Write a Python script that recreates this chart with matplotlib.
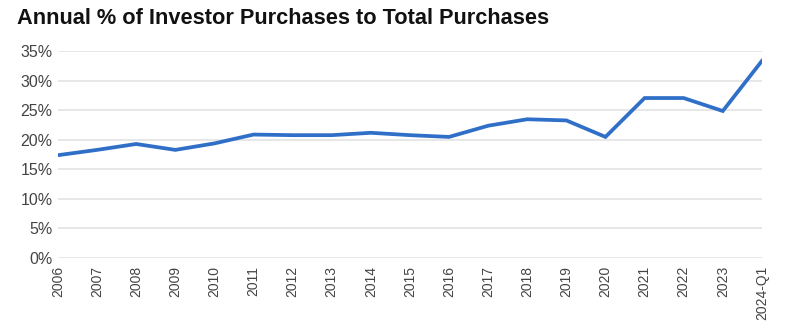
import matplotlib.pyplot as plt
from matplotlib.ticker import FuncFormatter

plt.rcParams['font.family'] = ['Liberation Sans', 'DejaVu Sans']

# datos
periodos = ['2006', '2007', '2008', '2009', '2010', '2011', '2012', '2013', '2014', '2015',
            '2016', '2017', '2018', '2019', '2020', '2021', '2022', '2023', '2024-Q1']
porcentaje = [17.4, 18.3, 19.3, 18.3, 19.4, 20.9, 20.8, 20.8, 21.2, 20.8,
              20.5, 22.4, 23.5, 23.3, 20.5, 27.1, 27.1, 24.9, 33.4]
marcas_y = [0, 5, 10, 15, 20, 25, 30, 35]

fig = plt.figure(figsize=(7.92, 3.29), dpi=100)
ax = fig.add_axes([0.0732, 0.2167, 0.8888, 0.6268])

x = list(range(len(periodos)))
ax.plot(x, porcentaje, color='#2f6fc8', linewidth=2.7, solid_joinstyle='miter', zorder=3)

ax.set_xlim(0, len(periodos) - 1)
ax.set_ylim(0, 35)
ax.set_yticks(marcas_y)
ax.yaxis.set_major_formatter(FuncFormatter(lambda v, p: '%d%%' % v))
ax.set_xticks(x)
ax.set_xticklabels(periodos, rotation=90)
ax.grid(axis='y', color='#e3e3e3', linewidth=1.2)
ax.set_axisbelow(True)
for s in ax.spines.values():
    s.set_visible(False)
ax.tick_params(axis='y', length=0, pad=4, labelsize=11.5, labelcolor='#444444')
ax.tick_params(axis='x', length=0, pad=6, labelsize=10, labelcolor='#444444')

fig.text(0.021, 0.945, 'Annual % of Investor Purchases to Total Purchases',
         fontsize=15.7, fontweight='bold', color='#111111', va='center', ha='left')

fig.savefig('out.png', dpi=100, facecolor='white')
